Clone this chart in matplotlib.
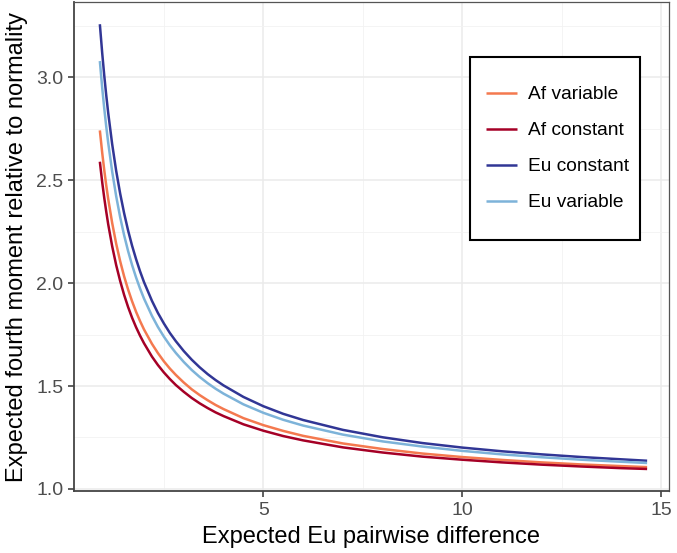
import matplotlib
matplotlib.use("Agg")
import matplotlib.pyplot as plt
from matplotlib.patches import Rectangle

plt.rcParams['font.family'] = ['Liberation Sans', 'DejaVu Sans']

# Expected Eu pairwise difference (x) and expected fourth moment relative to normality (y)
x_vals = [0.89, 0.95, 1.0, 1.05, 1.1, 1.2, 1.3, 1.4, 1.5, 1.6, 1.7, 1.8, 1.9, 2.0, 2.2,
          2.35, 2.5, 2.65, 2.8, 3.0, 3.2, 3.4, 3.6, 3.8, 4.0, 4.5, 5.0, 5.5, 6.0, 7.0,
          8.0, 9.0, 10.0, 11.0, 12.0, 13.0, 14.0, 14.65]

af_variable = [2.742, 2.632, 2.550, 2.476, 2.409, 2.292, 2.192, 2.107, 2.033, 1.969,
               1.912, 1.861, 1.816, 1.775, 1.705, 1.660, 1.620, 1.585, 1.554, 1.517,
               1.484, 1.456, 1.431, 1.408, 1.388, 1.344, 1.310, 1.282, 1.258, 1.221,
               1.194, 1.172, 1.155, 1.141, 1.129, 1.119, 1.111, 1.106]
af_constant = [2.590, 2.489, 2.415, 2.348, 2.286, 2.179, 2.088, 2.011, 1.943, 1.884,
               1.832, 1.786, 1.745, 1.708, 1.643, 1.602, 1.566, 1.534, 1.505, 1.472,
               1.442, 1.416, 1.393, 1.372, 1.354, 1.314, 1.283, 1.257, 1.236, 1.202,
               1.177, 1.157, 1.142, 1.129, 1.118, 1.109, 1.101, 1.097]
eu_constant = [3.258, 3.116, 3.010, 2.914, 2.827, 2.675, 2.546, 2.436, 2.340, 2.256,
               2.182, 2.117, 2.058, 2.005, 1.914, 1.855, 1.804, 1.758, 1.718, 1.670,
               1.628, 1.591, 1.558, 1.529, 1.503, 1.447, 1.402, 1.365, 1.335, 1.287,
               1.251, 1.223, 1.201, 1.183, 1.168, 1.155, 1.144, 1.137]
eu_variable = [3.079, 2.947, 2.850, 2.762, 2.682, 2.542, 2.423, 2.321, 2.233, 2.156,
               2.088, 2.028, 1.974, 1.925, 1.841, 1.787, 1.740, 1.698, 1.661, 1.617,
               1.578, 1.544, 1.514, 1.487, 1.463, 1.411, 1.370, 1.336, 1.308, 1.264,
               1.231, 1.206, 1.185, 1.168, 1.154, 1.142, 1.132, 1.126]

series_names = ["Af variable", "Af constant", "Eu constant", "Eu variable"]
series_values = [af_variable, af_constant, eu_constant, eu_variable]
series_colors = ["#F4794F", "#A50026", "#313695", "#7DB3D9"]

x_ticks = [5, 10, 15]
y_ticks = [1.0, 1.5, 2.0, 2.5, 3.0]
x_minor = [2.5, 7.5, 12.5]
y_minor = [1.25, 1.75, 2.25, 2.75, 3.25]

W, H = 677, 553
fig = plt.figure(figsize=(W / 100, H / 100), dpi=100)
ax = fig.add_axes([74 / W, (H - 491) / H, (669 - 74) / W, (491 - 2) / H])

for name, vals, col in zip(series_names, series_values, series_colors):
    ax.plot(x_vals, vals, color=col, lw=1.8, label=name, solid_capstyle='butt',
            solid_joinstyle='round', zorder=3)

ax.set_xlim(0.24, 15.2)
ax.set_ylim(0.99, 3.366)
ax.set_xticks(x_ticks)
ax.set_xticklabels([str(t) for t in x_ticks])
ax.set_yticks(y_ticks)
ax.set_yticklabels([f"{t:.1f}" for t in y_ticks])
ax.set_xticks(x_minor, minor=True)
ax.set_yticks(y_minor, minor=True)
ax.grid(True, which='major', color='#EBEBEB', lw=1.1, zorder=0)
ax.grid(True, which='minor', color='#F2F2F2', lw=0.6, zorder=0)
ax.set_axisbelow(True)
ax.tick_params(axis='both', which='major', length=4.2, width=1.1, color='#333333',
               labelcolor='#4D4D4D', labelsize=14, pad=3.5)
ax.tick_params(axis='both', which='minor', length=0)

for side in ['left', 'bottom']:
    ax.spines[side].set_color('#444444')
    ax.spines[side].set_linewidth(1.3)
for side in ['top', 'right']:
    ax.spines[side].set_color('#555555')
    ax.spines[side].set_linewidth(0.9)

ax.set_xlabel("Expected Eu pairwise difference", fontsize=17, color='black', labelpad=5)
ax.set_ylabel("Expected fourth moment relative to normality", fontsize=17, color='black', labelpad=6)

# legend box
ax_w, ax_h = 669 - 74, 491 - 2
rx0 = (470 - 74) / ax_w
ry0 = (491 - 240) / ax_h
rw = (640 - 470) / ax_w
rh = (240 - 57) / ax_h
ax.add_patch(Rectangle((rx0, ry0), rw, rh, transform=ax.transAxes, fill=True,
                       facecolor='white', edgecolor='black', lw=1.5, zorder=5))
leg = ax.legend(loc='upper left', bbox_to_anchor=((486 - 74) / ax_w, (491 - 86) / ax_h),
                frameon=False, fontsize=13.8, handlelength=1.62, handletextpad=0.55,
                labelspacing=0.97, borderpad=0, borderaxespad=0)
leg.set_zorder(6)
for line in leg.get_lines():
    line.set_linewidth(1.8)

fig.savefig("out.png", dpi=100)
